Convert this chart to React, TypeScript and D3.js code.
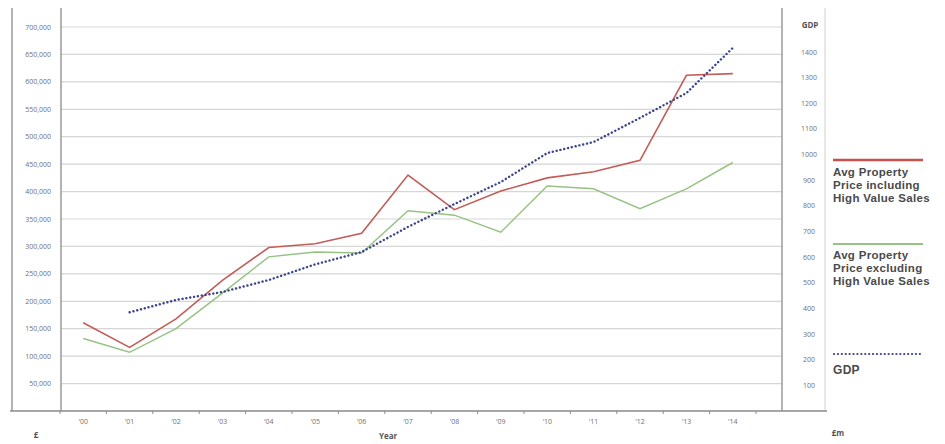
import React from "react";
import * as d3 from "d3";

const years = ["'00","'01","'02","'03","'04","'05","'06","'07","'08","'09","'10","'11","'12","'13","'14"];
const priceIncl = [161000,116000,168000,238000,298000,305000,324000,430000,367000,401000,425000,436000,457000,612000,615000];
const priceExcl = [132000,107000,150000,215000,281000,290000,288000,365000,357000,326000,410000,405000,369000,405000,453000];
const gdpYears = ["'01","'02","'03","'04","'05","'06","'07","'08","'09","'10","'11","'12","'13","'14"];
const gdp = [385,433,464,511,572,620,718,807,893,1006,1049,1143,1240,1416];
const priceTicks = [50000,100000,150000,200000,250000,300000,350000,400000,450000,500000,550000,600000,650000,700000];
const gdpTicks = [100,200,300,400,500,600,700,800,900,1000,1100,1200,1300,1400];
const legendIncl = ["Avg Property", "Price including", "High Value Sales"];
const legendExcl = ["Avg Property", "Price excluding", "High Value Sales"];

const W = 945, H = 444;
const plotLeft = 61, plotRight = 782, plotTop = 8, plotBottom = 411;
const bandLeft = 60, bandRight = 756;

export default function App() {
  const x = d3.scaleBand<string>().domain(years).range([bandLeft, bandRight]).padding(0);
  const cx = (d: string) => (x(d) as number) + x.bandwidth() / 2;
  const y = d3.scaleLinear().domain([0, 700000]).range([plotBottom, 27]);
  const yg = d3.scaleLinear().domain([0, 1400]).range([plotBottom, 52]);
  const fmt = d3.format(",");

  const lineP = d3.line<number>().x((_, i) => cx(years[i])).y((d) => y(d));
  const lineG = d3.line<number>().x((_, i) => cx(gdpYears[i])).y((d) => yg(d));

  const tickFont = "'Open Sans', 'DejaVu Sans', sans-serif";
  const legFont = "'Liberation Sans', Arial, sans-serif";
  const boundaries = years.map((d) => x(d) as number).concat([bandRight]);
  const lh = 12.9;

  return (
    <svg width={W} height={H} style={{ position: "absolute", left: 0, top: 0, background: "#fff" }}>
      {priceTicks.map((t) => (
        <line key={t} x1={plotLeft} x2={plotRight} y1={y(t)} y2={y(t)} stroke="#d6d6d6" strokeWidth={1.2} />
      ))}
      <line x1={12} x2={12} y1={plotTop} y2={plotBottom} stroke="#9a9a9a" strokeWidth={1.5} />
      <line x1={plotLeft} x2={plotLeft} y1={plotTop} y2={plotBottom} stroke="#9a9a9a" strokeWidth={1.5} />
      <line x1={plotRight} x2={plotRight} y1={plotTop} y2={plotBottom} stroke="#9a9a9a" strokeWidth={1.5} />
      <line x1={825} x2={825} y1={plotTop} y2={plotBottom} stroke="#d0d0d0" strokeWidth={1} />
      <line x1={10} x2={827} y1={plotBottom} y2={plotBottom} stroke="#8a8a8a" strokeWidth={1.5} />
      {boundaries.map((b, i) => (
        <line key={i} x1={b} x2={b} y1={plotBottom} y2={plotBottom + 3} stroke="#8a8a8a" strokeWidth={1} />
      ))}
      {priceTicks.map((t) => (
        <text key={t} x={51} y={y(t) + 2.5} textAnchor="end" fontSize={7} fill="#707070" fontFamily={tickFont}>
          {fmt(t)}
        </text>
      ))}
      {gdpTicks.map((t) => (
        <text key={t} x={809} y={yg(t) + 2.5} textAnchor="middle" fontSize={7} fill="#707070" fontFamily={tickFont}>
          {t}
        </text>
      ))}
      <text x={810} y={28} textAnchor="middle" fontSize={8} fill="#555" fontWeight="bold" fontFamily={tickFont}>GDP</text>
      {years.map((d) => (
        <text key={d} x={cx(d)} y={424} textAnchor="middle" fontSize={7} fill="#707070" fontFamily={tickFont}>
          {d}
        </text>
      ))}
      <text x={388} y={439} textAnchor="middle" fontSize={8} fill="#555" fontWeight="bold" fontFamily={tickFont}>Year</text>
      <text x={36} y={438} textAnchor="middle" fontSize={8} fill="#555" fontWeight="bold" fontFamily={tickFont}>£</text>
      <text x={838} y={436} textAnchor="middle" fontSize={8} fill="#555" fontWeight="bold" fontFamily={tickFont}>£m</text>
      <path d={lineP(priceExcl) || ""} fill="none" stroke="#97c283" strokeWidth={1.5} />
      <path d={lineP(priceIncl) || ""} fill="none" stroke="#c25d57" strokeWidth={1.6} />
      <path d={lineG(gdp) || ""} fill="none" stroke="#3b4589" strokeWidth={2.4} strokeDasharray="0.1 3.8" strokeLinecap="round" />
      <line x1={833} x2={923} y1={160} y2={160} stroke="#c8504c" strokeWidth={2.5} />
      {legendIncl.map((s, i) => (
        <text key={i} x={833} y={176 + i * lh} fontFamily={legFont} fontWeight="bold" fontSize={11.5} fill="#4a4a4a" letterSpacing={0.3}>{s}</text>
      ))}
      <line x1={833} x2={923} y1={244} y2={244} stroke="#97c283" strokeWidth={2} />
      {legendExcl.map((s, i) => (
        <text key={i} x={833} y={259 + i * lh} fontFamily={legFont} fontWeight="bold" fontSize={11.5} fill="#4a4a4a" letterSpacing={0.3}>{s}</text>
      ))}
      <line x1={834} x2={923} y1={354} y2={354} stroke="#3b4589" strokeWidth={2.2} strokeDasharray="0.1 3.8" strokeLinecap="round" />
      <text x={833} y={374} fontFamily={legFont} fontWeight="bold" fontSize={12} fill="#4a4a4a" letterSpacing={0.3}>GDP</text>
    </svg>
  );
}
